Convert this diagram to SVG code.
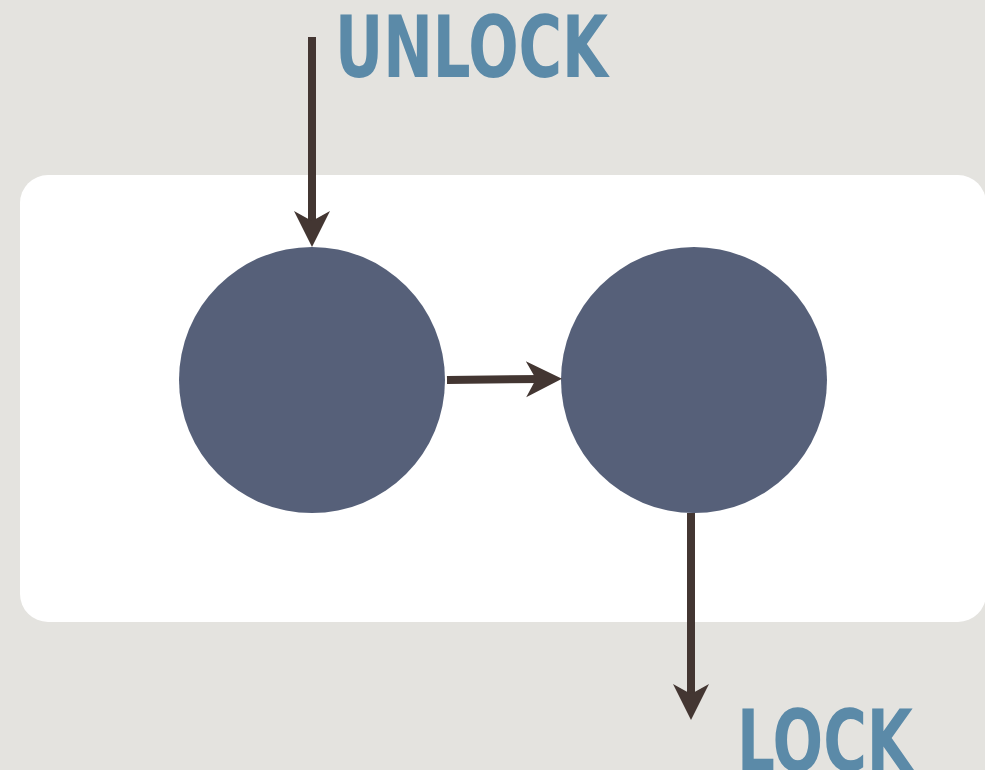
<svg xmlns="http://www.w3.org/2000/svg" width="985" height="770" viewBox="0 0 985 770">
  <style>
    .node { fill: #566079; }
    .conn { stroke: #433632; stroke-width: 8; fill: none; marker-end: url(#head); }
    .label { font-family: "Liberation Sans Narrow", "DejaVu Sans Condensed", "Liberation Sans", sans-serif; font-stretch: condensed; font-weight: bold; fill: #5b8aa8; font-size: 86px; }
  </style>
  <defs>
    <marker id="head" markerUnits="userSpaceOnUse" viewBox="-38 -20 42 40" markerWidth="42" markerHeight="40" refX="-20" refY="0" orient="auto">
      <path d="M0,0 L-36,-18 L-26,0 L-36,18 Z" fill="#433632"/>
    </marker>
  </defs>
  <rect x="0" y="0" width="985" height="770" fill="#e4e3df"/>
  <g id="panel">
    <rect x="20" y="175" width="966" height="447" rx="28" ry="28" fill="#ffffff"/>
  </g>
  <g id="node-left">
    <circle class="node" cx="312" cy="380" r="133"/>
  </g>
  <g id="node-right">
    <circle class="node" cx="694" cy="380" r="133"/>
  </g>
  <g id="connectors">
    <line class="conn" x1="312" y1="37" x2="312" y2="227"/>
    <line class="conn" x1="447" y1="380" x2="542" y2="379"/>
    <line class="conn" x1="691" y1="513" x2="691" y2="700"/>
  </g>
  <g id="label-unlock">
    <text class="label" x="335" y="77" textLength="273" lengthAdjust="spacingAndGlyphs">UNLOCK</text>
  </g>
  <g id="label-lock">
    <text class="label" x="737" y="771" textLength="176" lengthAdjust="spacingAndGlyphs">LOCK</text>
  </g>
</svg>
